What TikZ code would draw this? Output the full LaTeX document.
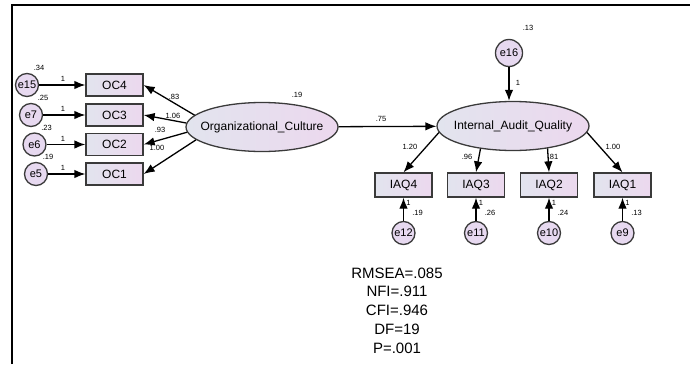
\documentclass[tikz,border=0pt]{standalone}
\usepackage{fontspec}
\setmainfont{Liberation Sans}
\usetikzlibrary{arrows.meta,shapes.geometric,positioning}
\definecolor{boxleft}{HTML}{E2E4EE}
\definecolor{boxright}{HTML}{ECD8EE}
\definecolor{errfill}{HTML}{E7D9F0}
\definecolor{edge}{HTML}{3A3A3A}
\tikzstyle{obs} = [draw=edge, line width=1.3pt, left color=boxleft, right color=boxright, minimum width=57pt, minimum height=22pt, inner sep=0pt, font=\fontsize{12}{12}\selectfont]
\tikzstyle{lat} = [ellipse, draw=edge, line width=1.3pt, left color=boxleft, right color=boxright, minimum width=152pt, minimum height=49pt, inner xsep=-10pt, inner ysep=0pt, font=\fontsize{12}{12}\selectfont]
\tikzstyle{err} = [circle, draw=edge, line width=1.3pt, fill=errfill, minimum size=23pt, inner sep=0pt, font=\fontsize{11}{11}\selectfont]
\tikzstyle{arrow} = [line width=1.3pt, -{Latex[length=11pt,width=8.5pt]}]
\tikzstyle{est} = [inner sep=0pt, font=\fontsize{7.5}{7.5}\selectfont]

\begin{document}
\begin{tikzpicture}[x=1pt, y=-1pt]
    \useasboundingbox (0,0) rectangle (690,364);
    \draw[line width=2pt] (12,364) -- (12,4.5) -- (690,4.5);
    % left construct
    \node[lat] (culture) at (262,127) {Organizational\_Culture};
    \node[est] (vculture) at (297,95) {.19};
    \foreach \n/\e/\y/\ex/\v in {4/15/85/27/.34, 3/7/115/31/.25, 2/6/144.5/34.5/.23, 1/5/174/36/.19}{
        \node[obs] (oc\n) at (114.5,\y) {OC\n};
        \node[err] (e\e) at (\ex,\y) {e\e};
        \draw[arrow] (e\e) -- (oc\n);
        \node[est] (v\e) at (\ex+12,\y-17) {\v};
        \node[est] (w\e) at (63,\y-6) {1};
    }
    \foreach \n/\a/\lx/\ly/\v in {4/170/174/97/.83, 3/177/173/116/1.06, 2/184/160/130/.93, 1/191/157/148/1.00}{
        \draw[arrow] (culture.\a) -- (oc\n.east);
        \node[est] (loc\n) at (\lx,\ly) {\v};
    }
    % right construct
    \node[lat] (audit) at (513,126) {Internal\_Audit\_Quality};
    \draw[arrow] (culture) -- (audit);
    \node[est] (path) at (381,119) {.75};
    \node[err, minimum size=27pt] (e16) at (509,53) {e16};
    \node[est] (v16) at (528,28) {.13};
    \draw[arrow] (e16) -- (e16 |- audit.north);
    \node[est] (w16) at (518,83) {1};
    \foreach \n/\x/\e/\a/\lx/\ly/\l/\v in {4/403.5/12/185.5/410/147/1.20/.19, 3/476/11/215.4/467/157/.96/.26, 2/549/10/327/553/157/.81/.24, 1/622.5/9/355/613/147/1.00/.13}{
        \node[obs, minimum height=24pt] (iaq\n) at (\x,185) {IAQ\n};
        \node[err] (e\e) at (\x,233) {e\e};
        \draw[arrow] (audit.\a) -- (iaq\n.north);
        \draw[arrow] (e\e) -- (iaq\n);
        \node[est] (liaq\n) at (\lx,\ly) {\l};
        \node[est] (w\e) at (\x+5,203) {1};
        \node[est] (v\e) at (\x+14,213) {\v};
    }
    % fit indices
    \node[align=center, inner sep=0pt, font=\fontsize{15}{18.7}\selectfont] (fit) at (397,310.5) {RMSEA=.085\\NFI=.911\\CFI=.946\\DF=19\\P=.001};
\end{tikzpicture}
\end{document}
